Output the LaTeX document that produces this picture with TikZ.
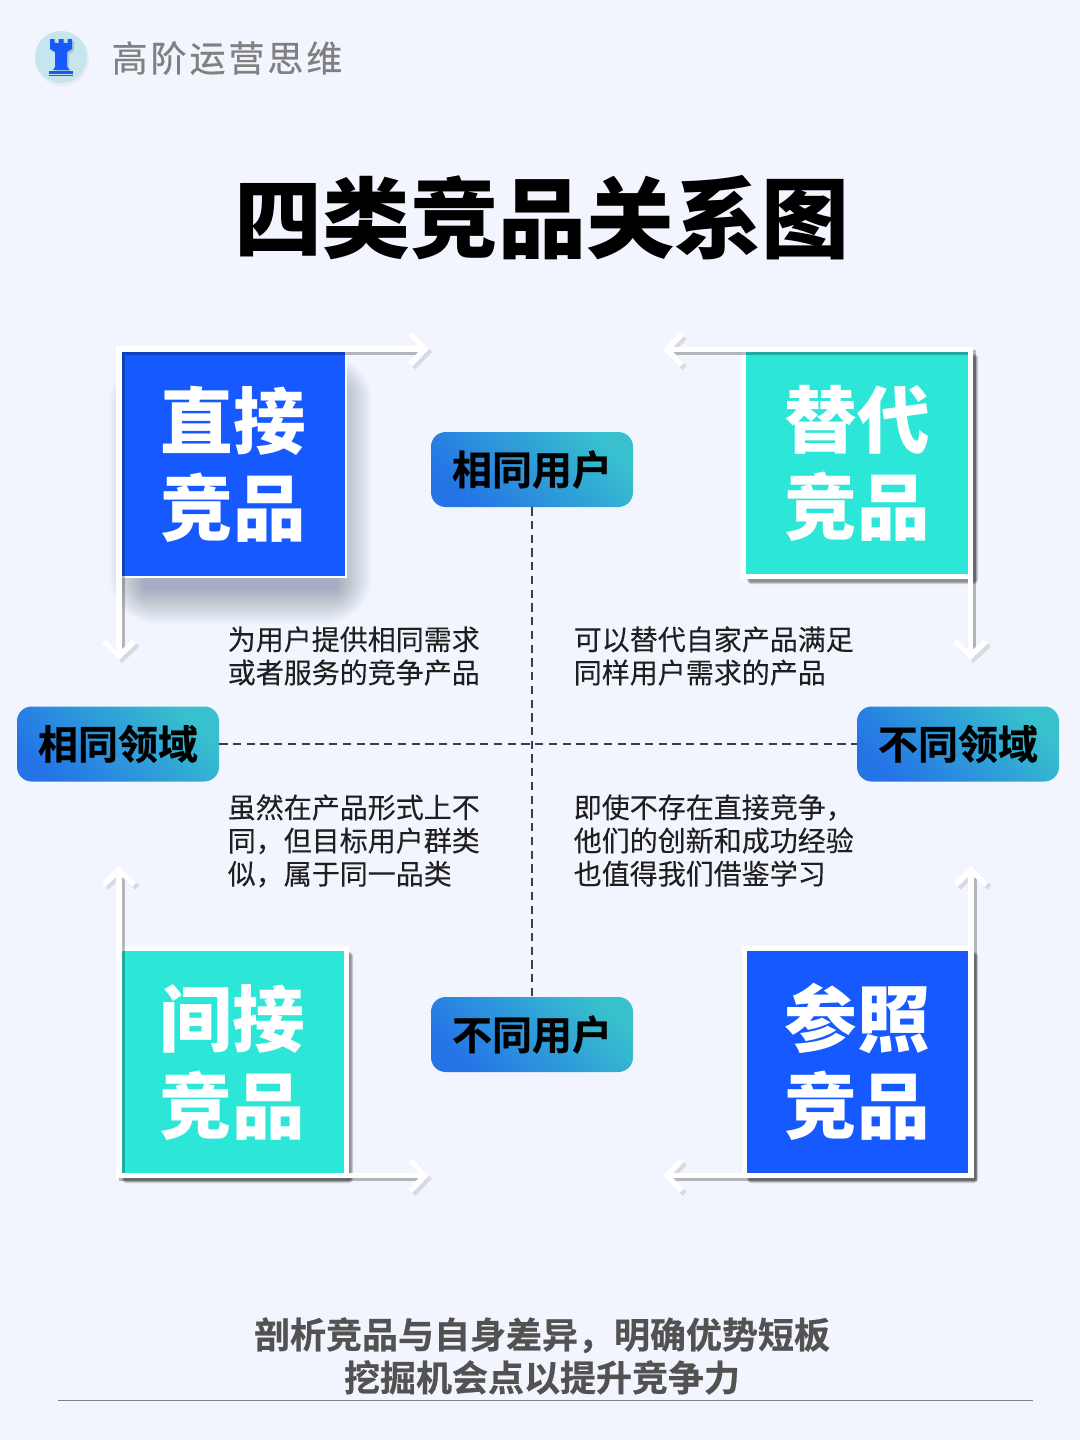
\documentclass[tikz,border=0pt]{standalone}
\usepackage{fontspec}
\usetikzlibrary{arrows.meta}
\setmainfont{Noto Sans CJK SC}
\newfontfamily\cjkreg{Noto Sans CJK SC}[FakeBold=0.12]
\newfontfamily\cjkmed{Noto Sans CJK SC}[FakeBold=0.5]
\newfontfamily\cjkbold{Noto Sans CJK SC Bold}[FakeBold=0.6]
\newfontfamily\cjkheavy{Noto Sans CJK SC Black}
\definecolor{bgc}{HTML}{F3F5FE}
\definecolor{bluec}{HTML}{1659FF}
\definecolor{tealc}{HTML}{2CE6D8}
\definecolor{pilla}{HTML}{2474E6}
\definecolor{pillb}{HTML}{38C0CE}
\definecolor{logoc}{HTML}{C6E5EE}
\definecolor{softc}{HTML}{3A4A78}
\definecolor{dashc}{HTML}{3C3C50}
\tikzset{
  bigbox/.style={minimum width=227*0.75pt,minimum height=227*0.75pt,inner sep=0pt,outer sep=0pt,draw=white,line width=3.75pt,text=white,align=center,font=\fontsize{54.5}{65.2}\selectfont\cjkheavy},
  thinbox/.style={bigbox,minimum width=225*0.75pt,minimum height=226*0.75pt,line width=1.5pt},
  pill/.style={minimum width=202*0.75pt,minimum height=75*0.75pt,inner sep=0pt,rounded corners=11pt,left color=pilla,right color=pillb,shading angle=135,text=black,font=\fontsize{30}{36}\selectfont\cjkbold},
  wire/.style={draw=white,line width=4.1pt,{Straight Barb[length=11pt,width=23pt,line width=4.3pt]}-{Straight Barb[length=11pt,width=23pt,line width=4.3pt]},line join=miter},
  wireshadeA/.style={wire,draw=black,opacity=.11},
  wireshadeB/.style={draw=black,opacity=.17,line width=3.9pt,line join=miter,shorten >=6pt,shorten <=6pt},
  dashline/.style={draw=dashc,line width=1.5pt,dash pattern=on 6.2pt off 4.1pt},
  bodytext/.style={anchor=north west,inner sep=0pt,align=left,text=black!88,font=\fontsize{21}{24.9}\selectfont\cjkreg},
}
\newcommand{\softshadow}[7]{%
  \foreach \k in {1,...,#5}{%
    \fill[#6,opacity=#7,rounded corners=\k pt] (#1-\k,#2-\k) rectangle (#3+\k,#4+\k);
  }}
\begin{document}
\begin{tikzpicture}[x=0.75pt,y=-0.75pt]
\useasboundingbox (0,0) rectangle (1080,1440);
\fill[bgc] (0,0) rectangle (1080,1440);
% logo
\fill[black,opacity=.04] (62,59) circle (27);
\fill[logoc] (61,57) circle (26);
\fill[black!60,opacity=.25,shift={(2,2)}] (50,39)--(54.5,39)--(54.5,43)--(58.5,43)--(58.5,39)--(63.5,39)--(63.5,43)--(67.5,43)--(67.5,39)--(72,39)--(72,49)--(67,52)--(67,68)--(70,70)--(53,70)--(55,68)--(55,52)--(50,49)--cycle;
\fill[bluec] (50,39)--(54.5,39)--(54.5,43)--(58.5,43)--(58.5,39)--(63.5,39)--(63.5,43)--(67.5,43)--(67.5,39)--(72,39)--(72,49)--(67,52)--(67,67)--(70,70)--(53,70)--(55,67)--(55,52)--(50,49)--cycle;
\fill[bluec] (49,71) rectangle (72.5,73.5);
\fill[bluec] (49,74.5) rectangle (72.5,76);
\node[inner sep=0pt,text=black!50,font=\fontsize{27}{32}\selectfont\cjkmed] (brand) at (227,58) {高\hspace{2.2pt}阶\hspace{2.2pt}运\hspace{2.2pt}营\hspace{2.2pt}思\hspace{2.2pt}维};
% title
\node[inner sep=0pt,text=black,font=\fontsize{66}{80}\selectfont\cjkheavy] (title) at (542,218) {四类竞品关系图};
% dashed axes
\node[pill] (ptop) at (532,469.5) {相同用户};
\node[pill] (pbot) at (532,1034.5) {不同用户};
\node[pill] (pleft) at (118,744) {相同领域};
\node[pill] (pright) at (958,744) {不同领域};
\draw[dashline] (ptop) -- (pbot);
\draw[dashline] (pleft) -- (pright);
% shadows
\softshadow{145}{390}{336}{588}{36}{softc}{0.011}
\softshadow{750}{357}{975}{581}{3}{black}{0.16}
\softshadow{125}{955}{350}{1180}{3}{black}{0.16}
\softshadow{750}{955}{975}{1180}{3}{black}{0.16}
% boxes
\node[thinbox,fill=bluec] (b1) at (233.5,464) {直接\\竞品};
\node[bigbox,fill=tealc] (b2) at (857,463) {替代\\竞品};
\node[bigbox,fill=tealc] (b3) at (232.5,1062) {间接\\竞品};
\node[bigbox,fill=bluec] (b4) at (857.5,1062) {参照\\竞品};
% L-shaped arrows
\coordinate (t1a) at (429,349); \coordinate (t1b) at (119,660);
\coordinate (t2a) at (663,349.5); \coordinate (t2b) at (970.5,660);
\coordinate (t3a) at (429,1175.5); \coordinate (t3b) at (119,866);
\coordinate (t4a) at (663,1175.5); \coordinate (t4b) at (971,866);
\foreach \st/\d in {wireshadeA/3,wireshadeB/3,wire/0}{
  \draw[\st] ([shift={(\d,\d)}]t1a) -- ([shift={(-2+\d,-2+\d)}]b1.north west) -- ([shift={(\d,\d)}]t1b);
  \draw[\st] ([shift={(\d,\d)}]t2a) -- ([shift={(\d,\d)}]b2.north east) -- ([shift={(\d,\d)}]t2b);
  \draw[\st] ([shift={(\d,\d)}]t3a) -- ([shift={(\d,\d)}]b3.south west) -- ([shift={(\d,\d)}]t3b);
  \draw[\st] ([shift={(\d,\d)}]t4a) -- ([shift={(\d,\d)}]b4.south east) -- ([shift={(\d,\d)}]t4b);
}
% body text
\node[bodytext] (tx1) at (227.5,626) {为用户提供相同需求\\或者服务的竞争产品};
\node[bodytext] (tx2) at (573.5,626) {可以替代自家产品满足\\同样用户需求的产品};
\node[bodytext] (tx3) at (227.5,794) {虽然在产品形式上不\\同，但目标用户群类\\似，属于同一品类};
\node[bodytext] (tx4) at (573.5,794) {即使不存在直接竞争，\\他们的创新和成功经验\\也值得我们借鉴学习};
% footer
\node[inner sep=0pt,align=center,text=black!68,font=\fontsize{27}{32.2}\selectfont\cjkbold] (foot) at (542,1356) {剖析竞品与自身差异，明确优势短板\\挖掘机会点以提升竞争力};
\coordinate (fl) at (58,1400.5); \coordinate (fr) at (1033,1400.5);
\draw[black!50,line width=0.6pt] (fl) -- (fr);
\end{tikzpicture}
\end{document}
